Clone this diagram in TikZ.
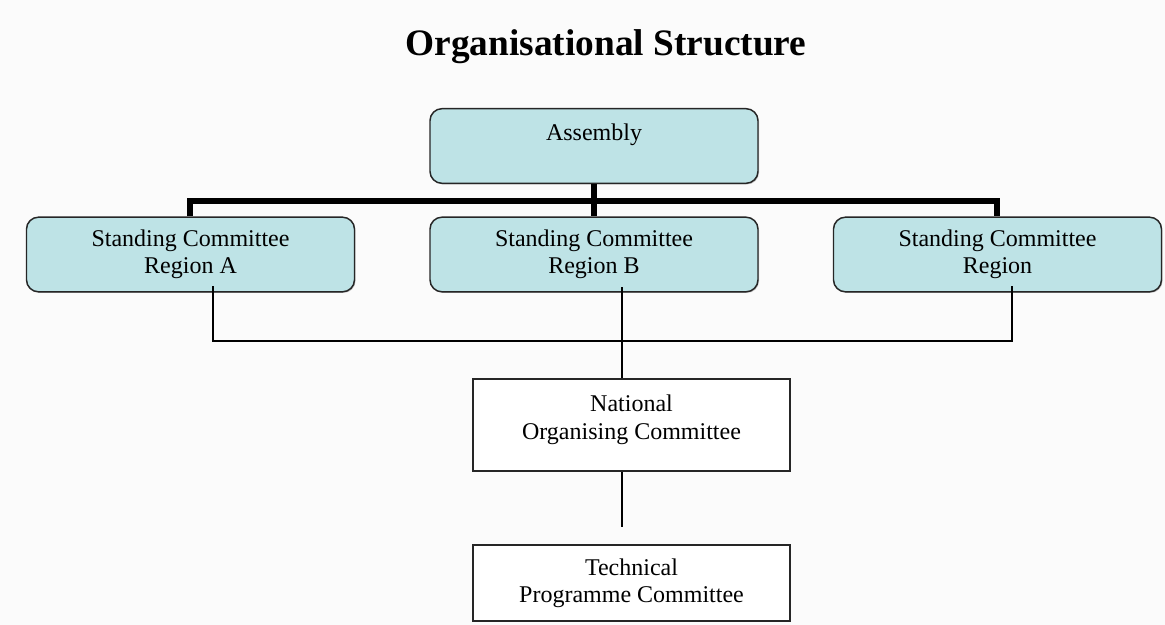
\documentclass[tikz,border=0pt]{standalone}
\usepackage{fontspec}
\setmainfont{Liberation Serif}
\usetikzlibrary{shadows}
\definecolor{boxcyan}{HTML}{BEE3E6}
\definecolor{bgpaper}{HTML}{FBFBFB}
\tikzset{
	unit/.style={draw=black!85,fill=boxcyan,rounded corners=9pt,line width=1.1pt,
		minimum width=246pt,minimum height=56pt,align=center,
		font=\fontsize{18}{20.5}\selectfont,
		drop shadow={shadow xshift=0.8pt,shadow yshift=-0.8pt,fill=black!45}},
	office/.style={draw=black!85,fill=white,line width=1.1pt,minimum width=238pt,
		align=center,font=\fontsize{18}{20.5}\selectfont},
	bus/.style={line width=4.5pt},
	link/.style={line width=1pt}
}
\begin{document}
\begin{tikzpicture}[x=0.75pt,y=-0.75pt]
		\fill[bgpaper] (0,0) rectangle (1165,625);
		\useasboundingbox (0,0) rectangle (1165,625);
		\node (title) at (606,47) {\fontsize{28}{32}\selectfont\bfseries Organisational Structure};
		% rounded boxes
		\node[unit] (assembly) at (594,146) {Assembly\\\phantom{A}};
		\node[unit] (regA) at (190.5,254.5) {Standing Committee\\Region A};
		\node[unit] (regB) at (594,254.5) {Standing Committee\\Region B};
		\node[unit] (regC) at (997.5,254.5) {Standing Committee\\Region};
		% plain boxes
		\node[office,minimum height=69pt] (noc) at (631.5,425) {National\\Organising Committee\\[-9pt]\mbox{}};
		\node[office,minimum height=57pt] (tpc) at (631.5,583) {Technical\\Programme Committee};
		\coordinate (busL) at (190,201);
		\coordinate (busR) at (997,201);
		\coordinate (tapA) at (213,286);
		\coordinate (tapB) at (622,287);
		\coordinate (tapC) at (1012,286);
		\coordinate (joint) at (622,341);
		\coordinate (stub) at (622,527);
		\draw[bus] (assembly.south) -- (regB.north);
		\draw[bus] (regA.north -| busL) |- (busL) -- (busR) -- (regC.north -| busR);
		\draw[link] (tapA) |- (joint) -| (tapC);
		\draw[link] (tapB) -- (noc.north -| tapB);
		\draw[link] (noc.south -| stub) -- (stub);
	\end{tikzpicture}
\end{document}
